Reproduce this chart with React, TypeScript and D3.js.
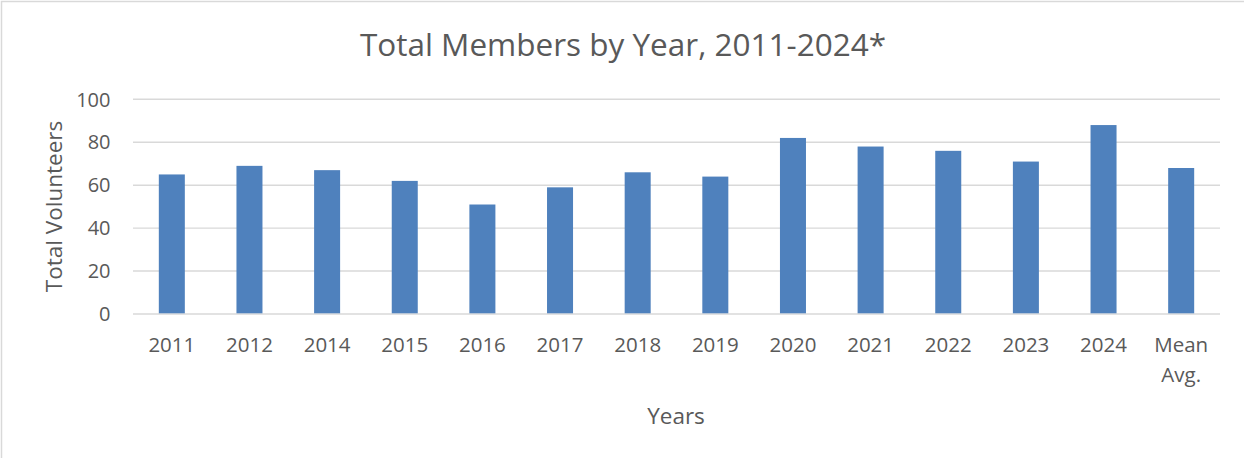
import React from "react";
import * as d3 from "d3";

const categories: string[] = ["2011", "2012", "2014", "2015", "2016", "2017", "2018", "2019", "2020", "2021", "2022", "2023", "2024", "Mean Avg."];
const members: number[] = [65, 69, 67, 62, 51, 59, 66, 64, 82, 78, 76, 71, 88, 68];
const yTicks: number[] = [0, 20, 40, 60, 80, 100];
const title = "Total Members by Year, 2011-2024*";
const xTitle = "Years";
const yTitle = "Total Volunteers";

const W = 1244;
const H = 458;
const FONT = "'Open Sans', sans-serif";
const TEXT = "#595959";
const GRID = "#d9d9d9";
const BAR = "#4f81bd";

export default function App() {
  const x = d3.scaleBand<string>().domain(categories).range([133, 1220]).paddingInner(0.665).paddingOuter(0.3325);
  const y = d3.scaleLinear().domain([0, 100]).range([314, 99.3]);

  return (
    <svg width={W} height={H} style={{ position: "absolute", left: 0, top: 0, background: "#fff" }} fontFamily={FONT}>
      <rect x={1.5} y={1.5} width={W + 20} height={H + 20} fill="#fff" stroke={GRID} strokeWidth={1.5} />
      <text x={623} y={56} textAnchor="middle" fontSize={31.5} fill={TEXT}>{title}</text>
      {yTicks.map((t) => (
        <g key={t}>
          <line x1={133} x2={1220} y1={y(t)} y2={y(t)} stroke={GRID} strokeWidth={1.4} />
          <text x={110.5} y={y(t)} dy="0.36em" textAnchor="end" fontSize={20} fill={TEXT}>{t}</text>
        </g>
      ))}
      {categories.map((c, i) => (
        <rect key={c} x={x(c)} y={y(members[i])} width={x.bandwidth()} height={y(0) - y(members[i]) - 0.7} fill={BAR} />
      ))}
      {categories.map((c) => {
        const cx = (x(c) as number) + x.bandwidth() / 2;
        const parts = c === "Mean Avg." ? ["Mean", "Avg."] : [c];
        return (
          <text key={c} x={cx} y={352} textAnchor="middle" fontSize={20.5} fill={TEXT}>
            {parts.map((p, j) => (
              <tspan key={j} x={cx} dy={j === 0 ? 0 : 30}>{p}</tspan>
            ))}
          </text>
        );
      })}
      <text x={676} y={424} textAnchor="middle" fontSize={22.5} fill={TEXT}>{xTitle}</text>
      <text transform="translate(62,206.5) rotate(-90)" textAnchor="middle" fontSize={22.5} fill={TEXT}>{yTitle}</text>
    </svg>
  );
}
